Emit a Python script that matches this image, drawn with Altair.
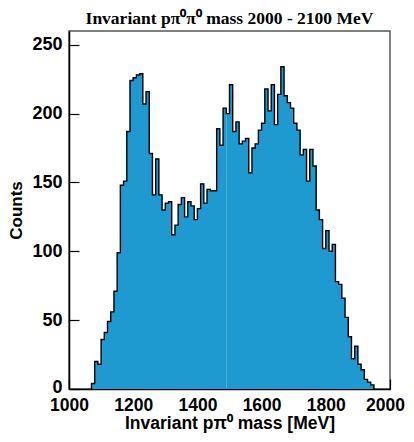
import altair as alt
import pandas as pd

# histogram: 10 MeV bins starting at 1070 MeV
bin_width = 10
bin_start = list(range(1070, 1950, bin_width))
counts = [
    4, 20, 18, 36, 41, 49, 56, 71, 99, 148,
    151, 187, 224, 226, 228, 229, 207, 216, 171, 141,
    167, 141, 130, 135, 136, 112, 119, 134, 139, 125,
    136, 133, 123, 131, 149, 135, 145, 144, 144, 189,
    177, 204, 200, 221, 187, 194, 178, 180, 182, 157,
    175, 178, 188, 193, 218, 202, 221, 192, 214, 234,
    213, 208, 204, 193, 188, 170, 174, 151, 174, 162,
    130, 123, 102, 115, 100, 105, 78, 76, 66, 52,
    38, 22, 31, 18, 14, 7, 5, 3,
]
seam = 1490  # the fill is drawn in two pieces that meet here
x_ticks = list(range(1000, 2001, 50))
y_ticks = list(range(0, 251, 25))

fill_color = "#1f9ad0"

# fill pieces (step-after areas)
rows = []
for seg in ("a", "b"):
    idx = [i for i, b in enumerate(bin_start) if (b < seam) == (seg == "a")]
    for i in idx:
        rows.append({"x": bin_start[i], "y": counts[i], "seg": seg})
    last = idx[-1]
    rows.append({"x": bin_start[last] + bin_width, "y": counts[last], "seg": seg})
fill_df = pd.DataFrame(rows)

# outline
orows = [{"x": bin_start[0], "y": 0, "o": 0}]
for i, (b, c) in enumerate(zip(bin_start, counts)):
    orows.append({"x": b, "y": c, "o": i + 1})
orows.append({"x": bin_start[-1] + bin_width, "y": 0, "o": len(counts) + 1})
line_df = pd.DataFrame(orows)

label_font = "Liberation Sans"

x_enc = alt.X(
    "x:Q",
    scale=alt.Scale(domain=[1000, 2000], nice=False, zero=False),
    axis=alt.Axis(
        values=x_ticks,
        format="d",
        labelExpr="datum.value % 200 === 0 ? datum.label : ''",
        tickSize={"expr": "datum.value % 200 === 0 ? -10 : -5"},
        labelPadding=17,
        labelFlush=False,
        labelFontSize=17.5,
        labelOffset={"expr": "datum.value === 2000 ? -5 : 0"},
        title="Invariant pπ⁰ mass [MeV]",
        titlePadding=1,
        titleFontSize=17.5,
        grid=False,
    ),
)
y_enc = alt.Y(
    "y:Q",
    stack=None,
    scale=alt.Scale(domain=[0, 260], nice=False),
    axis=alt.Axis(
        values=y_ticks,
        format="d",
        labelExpr="datum.value % 50 === 0 ? datum.label : ''",
        tickSize={"expr": "datum.value % 50 === 0 ? -10 : -5"},
        labelPadding=17,
        labelFlush=False,
        labelOffset={"expr": "datum.value === 0 ? -2 : 0"},
        title="Counts",
        titlePadding=6,
        grid=False,
    ),
)

area = alt.Chart(fill_df).mark_area(
    interpolate="step-after", color=fill_color
).encode(x=x_enc, y=y_enc, detail="seg:N")

outline = alt.Chart(line_df).mark_line(
    interpolate="step-after", color="black", strokeWidth=1.4
).encode(x="x:Q", y="y:Q", order="o:Q")

chart = (
    alt.layer(area, outline)
    .properties(
        width=321,
        height=358,
        padding={"left": 61, "top": 23, "right": 16, "bottom": 45},
        autosize="none",
        title=alt.TitleParams(
            "Invariant pπ⁰π⁰ mass 2000 - 2100 MeV",
            font="Liberation Serif",
            fontSize=17.5,
            fontWeight="bold",
            color="black",
            anchor="middle",
            offset=4,
        ),
    )
    .configure_view(stroke="#555555", strokeWidth=1.5)
    .configure_axis(
        domainColor="black",
        domainWidth=1.5,
        tickColor="black",
        tickWidth=1.2,
        labelFont=label_font,
        labelFontSize=18,
        labelFontWeight="bold",
        labelColor="black",
        titleFont=label_font,
        titleFontSize=17,
        titleFontWeight="bold",
        titleColor="black",
    )
)

chart.save("out.html", embed_options={"renderer": "svg", "actions": False})
